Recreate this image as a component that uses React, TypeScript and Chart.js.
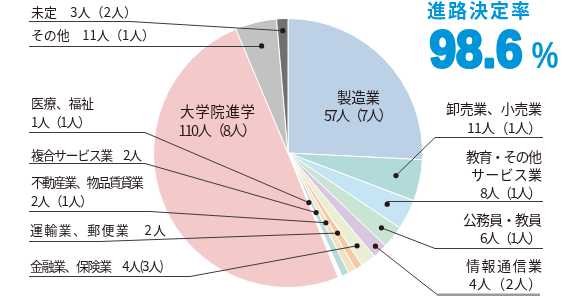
import React, { useEffect, useRef } from "react";
import { Chart, registerables } from "chart.js";

Chart.register(...registerables);

const categories = [
  "製造業",
  "卸売業、小売業",
  "教育・その他サービス業",
  "公務員・教員",
  "情報通信業",
  "金融業、保険業",
  "運輸業、郵便業",
  "不動産業、物品賃貸業",
  "複合サービス業",
  "医療、福祉",
  "大学院進学",
  "その他",
  "未定",
];
const counts = [57, 11, 8, 6, 4, 4, 2, 2, 2, 1, 110, 11, 3];
const labelTexts: string[][] = [
  ["製造業", "57人（7人）"],
  ["卸売業、小売業", "11人（1人）"],
  ["教育・その他", "サービス業", "8人（1人）"],
  ["公務員・教員", "6人（1人）"],
  ["情報通信業", "4人（2人）"],
  ["金融業、保険業　4人(3人)"],
  ["運輸業、郵便業　2人"],
  ["不動産業、物品賃貸業", "2人（1人）"],
  ["複合サービス業　2人"],
  ["医療、福祉", "1人（1人）"],
  ["大学院進学", "110人（8人）"],
  ["その他　11人（1人）"],
  ["未定　3人（2人）"],
];
const sliceColors = [
  "#bcd0e6",
  "#b1dad8",
  "#c6e5f4",
  "#c9e4d3",
  "#d9c7e0",
  "#e9efd2",
  "#f5c8a6",
  "#f3e2c2",
  "#b7dcdb",
  "#fbfbfb",
  "#f4c9c9",
  "#c2c2c2",
  "#707070",
];
const rateTitle = "進路決定率";
const rateValue = "98.6";

// layout for labels (positions / sizes only)
type Lay = {
  i: number;
  inside?: boolean;
  x: number;
  ys: number[];
  ws: (number | null)[];
  align: "left" | "right" | "center";
  size?: number;
  lineY?: number;
  lineX?: number;
  kinkX?: number | null;
  frac?: number;
  thick?: boolean;
};
const layout: Lay[] = [
  { i: 0, inside: true, x: 358.5, ys: [97, 115], ws: [43, 69], align: "center", size: 14.5 },
  { i: 10, inside: true, x: 217.5, ys: [111, 130], ws: [75, 78], align: "center", size: 14.5 },
  { i: 12, x: 31, ys: [12], ws: [106], align: "left", lineX: 29, lineY: 21, kinkX: 130, frac: 0.91 },
  { i: 11, x: 31, ys: [35], ws: [124], align: "left", lineX: 29, lineY: 46, kinkX: null, frac: 0.82 },
  { i: 9, x: 31, ys: [103, 122], ws: [63, 60], align: "left", lineX: 29, lineY: 132, kinkX: 145, frac: 0.4 },
  { i: 8, x: 31, ys: [155], ws: [111], align: "left", lineX: 29, lineY: 163, kinkX: 145, frac: 0.49 },
  { i: 7, x: 31, ys: [182, 201], ws: [113, 62], align: "left", lineX: 29, lineY: 211, kinkX: 150, frac: 0.59 },
  { i: 6, x: 30, ys: [230], ws: [136], align: "left", lineX: 29, lineY: 241, kinkX: 100, frac: 0.7 },
  { i: 5, x: 30, ys: [266], ws: [134], align: "left", lineX: 29, lineY: 276, kinkX: 190, frac: 0.86 },
  { i: 1, x: 542, ys: [109, 128], ws: [96, 75], align: "right", size: 14, lineX: 543, lineY: 137, kinkX: 435, frac: 0.82 },
  { i: 2, x: 542, ys: [157, 175, 193], ws: [76, 71, 62], align: "right", size: 14, lineX: 543, lineY: 201, kinkX: null, frac: 0.83 },
  { i: 3, x: 542, ys: [220, 238], ws: [79, 62], align: "right", size: 14, lineX: 543, lineY: 248, kinkX: 435, frac: 0.89 },
  { i: 4, x: 542, ys: [266, 284], ws: [76, 73], align: "right", size: 14, lineX: 540, lineY: 294, kinkX: 437, frac: 0.95, thick: true },
];

const FONT = '"Noto Sans CJK JP", "Noto Sans", sans-serif';
const TEXT = "#231815";
const BLUE = "#0095d9";

function drawSpaced(
  ctx: CanvasRenderingContext2D,
  text: string,
  x: number,
  y: number,
  align: "left" | "right" | "center",
  target: number | null
) {
  const chars = Array.from(text);
  const widths = chars.map((c) => ctx.measureText(c).width);
  const natural = widths.reduce((a, b) => a + b, 0);
  const total = target == null ? natural : target;
  const gap = chars.length > 1 ? (total - natural) / (chars.length - 1) : 0;
  let sx = align === "left" ? x : align === "right" ? x - total : x - total / 2;
  const prevAlign = ctx.textAlign;
  ctx.textAlign = "left";
  chars.forEach((c, k) => {
    ctx.fillText(c, sx, y);
    sx += widths[k] + gap;
  });
  ctx.textAlign = prevAlign;
}

const labelPlugin = {
  id: "labelPlugin",
  afterDraw(chart: any) {
    const ctx: CanvasRenderingContext2D = chart.ctx;
    const meta = chart.getDatasetMeta(0);
    ctx.save();
    ctx.textBaseline = "middle";
    for (const l of layout) {
      const lines = labelTexts[l.i];
      ctx.font = `${l.size || 13}px ${FONT}`;
      ctx.fillStyle = TEXT;
      lines.forEach((t, k) => drawSpaced(ctx, t, l.x, l.ys[k], l.align, l.ws[k]));
      if (l.inside) continue;
      const arc = meta.data[l.i];
      const p = arc.getProps(["x", "y", "startAngle", "endAngle", "outerRadius"], true);
      const mid = (p.startAngle + p.endAngle) / 2;
      const r = p.outerRadius * (l.frac || 0.8);
      const dx = p.x + Math.cos(mid) * r;
      const dy = p.y + Math.sin(mid) * r;
      const ly = (l.lineY as number) + 0.5;
      const lx = l.lineX as number;
      ctx.strokeStyle = "#3e3a39";
      ctx.lineWidth = 1;
      ctx.beginPath();
      if (l.kinkX == null) {
        ctx.moveTo(lx, ly);
        ctx.lineTo(dx, ly);
        ctx.lineTo(dx, dy);
        ctx.stroke();
      } else if (l.thick) {
        ctx.moveTo(l.kinkX, ly);
        ctx.lineTo(dx, dy);
        ctx.stroke();
        ctx.beginPath();
        ctx.strokeStyle = "#9a9a9a";
        ctx.lineWidth = 3;
        ctx.moveTo(l.kinkX, ly + 0.5);
        ctx.lineTo(lx, ly + 0.5);
        ctx.stroke();
      } else {
        ctx.moveTo(lx, ly);
        ctx.lineTo(l.kinkX, ly);
        ctx.lineTo(dx, dy);
        ctx.stroke();
      }
      ctx.beginPath();
      ctx.fillStyle = TEXT;
      ctx.arc(dx, dy, 2.6, 0, Math.PI * 2);
      ctx.fill();
    }
    // rate title
    ctx.fillStyle = BLUE;
    ctx.strokeStyle = BLUE;
    ctx.font = `bold 19px ${FONT}`;
    drawSpaced(ctx, rateTitle, 427, 11, "left", 103);
    ctx.textAlign = "left";
    ctx.textBaseline = "alphabetic";
    ctx.lineJoin = "round";
    ctx.font = 'bold 52px "Liberation Sans", Arial, sans-serif';
    const vw = ctx.measureText(rateValue).width;
    const sv = 93 / vw;
    ctx.save();
    ctx.translate(429.5, 66.5);
    ctx.scale(sv, 1);
    ctx.fillText(rateValue, 0, 0);
    ctx.restore();
    ctx.save();
    ctx.lineWidth = 3;
    ctx.translate(429.5, 66.5);
    ctx.scale(sv, 1);
    ctx.strokeText(rateValue, 0, 0);
    ctx.restore();
    ctx.font = 'bold 37px "Liberation Sans", Arial, sans-serif';
    const pw = ctx.measureText("%").width;
    ctx.save();
    ctx.translate(531.5, 67.5);
    ctx.scale(27 / pw, 1);
    ctx.fillText("%", 0, 0);
    ctx.restore();
    ctx.restore();
  },
};

export default function App() {
  const ref = useRef<HTMLCanvasElement>(null);
  useEffect(() => {
    document.body.style.margin = "0";
    const chart = new Chart(ref.current as HTMLCanvasElement, {
      type: "pie",
      data: {
        labels: categories,
        datasets: [
          {
            data: counts,
            backgroundColor: sliceColors,
            borderColor: "#ffffff",
            borderWidth: 1,
          },
        ],
      },
      options: {
        animation: false,
        responsive: false,
        layout: { padding: { left: 153, right: 157, top: 18, bottom: 8 } },
        plugins: { legend: { display: false }, tooltip: { enabled: false } },
      },
      plugins: [labelPlugin],
    });
    return () => chart.destroy();
  }, []);
  return (
    <div style={{ position: "fixed", left: 0, top: 0, width: 580, height: 296, background: "#fff" }}>
      <canvas ref={ref} width={580} height={296} style={{ width: 580, height: 296 }} />
    </div>
  );
}
